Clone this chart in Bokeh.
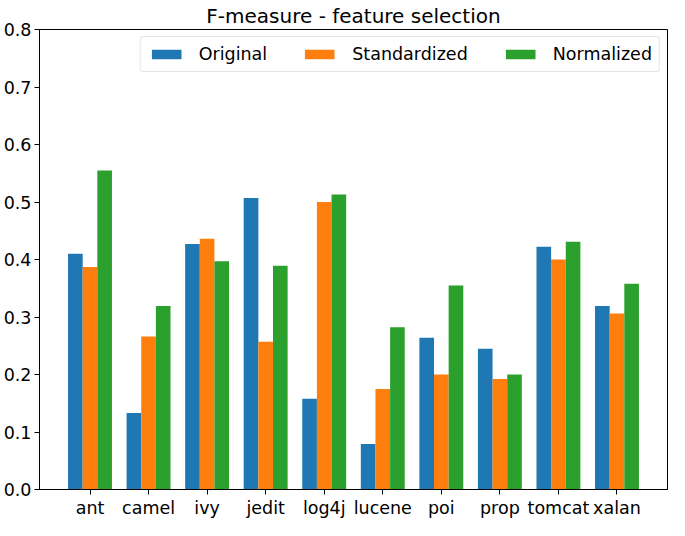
from bokeh.plotting import figure
from bokeh.models import FixedTicker, Range1d, Legend, LegendItem, ColumnDataSource
from bokeh.embed import file_html
from bokeh.resources import INLINE

projects = ["ant", "camel", "ivy", "jedit", "log4j", "lucene", "poi", "prop", "tomcat", "xalan"]
original = [0.410, 0.133, 0.427, 0.507, 0.158, 0.079, 0.264, 0.245, 0.422, 0.319]
standardized = [0.387, 0.266, 0.436, 0.257, 0.500, 0.175, 0.200, 0.192, 0.400, 0.306]
normalized = [0.555, 0.319, 0.397, 0.389, 0.513, 0.282, 0.355, 0.200, 0.431, 0.358]
series_names = ["Original", "Standardized", "Normalized"]
colors = ["#1f77b4", "#ff7f0e", "#2ca02c"]
y_ticks = [0.0, 0.1, 0.2, 0.3, 0.4, 0.5, 0.6, 0.7, 0.8]

FONT = "DejaVu Sans"
bw = 0.25
n = len(projects)

p = figure(width=669, height=520, output_backend="svg", toolbar_location=None,
           x_range=Range1d(-0.8625, n - 1 + 0.8625), y_range=Range1d(0, 0.8),
           min_border_left=36, min_border_right=2, min_border_top=0, min_border_bottom=2)

p.title.text = "F-measure - feature selection"
p.title.align = "center"
p.title.text_font = FONT
p.title.text_font_size = "20px"
p.title.text_font_style = "normal"
p.title.text_color = "black"
p.title.standoff = 3
p.title.offset = 0

renderers = []
for k, (vals, name, col) in enumerate(zip([original, standardized, normalized], series_names, colors)):
    xs = [i + (k - 1) * bw for i in range(n)]
    src = ColumnDataSource(dict(x=xs, top=vals))
    r = p.vbar(x="x", top="top", bottom=0, width=bw, source=src, fill_color=col, line_color=None)
    renderers.append(r)

p.xgrid.visible = False
p.ygrid.visible = False
p.outline_line_color = "black"
p.outline_line_width = 1
p.outline_line_alpha = 1

p.xaxis.ticker = FixedTicker(ticks=list(range(n)))
p.xaxis.major_label_overrides = {i: name for i, name in enumerate(projects)}
p.yaxis.ticker = FixedTicker(ticks=y_ticks)
p.yaxis.major_label_overrides = {t: f"{t:.1f}" for t in y_ticks}

for ax in (p.xaxis[0], p.yaxis[0]):
    ax.major_tick_in = 0
    ax.major_tick_out = 5
    ax.minor_tick_line_color = None
    ax.major_label_text_font = FONT
    ax.major_label_text_font_size = "17.5px"
    ax.major_label_text_color = "black"
    ax.axis_line_color = "black"
    ax.major_tick_line_color = "black"
    ax.major_label_standoff = 3

legend = Legend(items=[LegendItem(label=nm, renderers=[r]) for nm, r in zip(series_names, renderers)],
                location="top_right", orientation="horizontal")
legend.label_text_font = FONT
legend.label_text_font_size = "17.5px"
legend.label_text_color = "black"
legend.glyph_width = 37
legend.glyph_height = 12
legend.label_height = 18
legend.spacing = 34
legend.label_standoff = 14
legend.padding = 7
legend.margin = 7
legend.border_line_color = "#cccccc"
legend.border_line_width = 1
legend.background_fill_alpha = 0.8
legend.border_radius = 3
p.add_layout(legend)

open("out.html", "w").write(file_html(p, INLINE))
